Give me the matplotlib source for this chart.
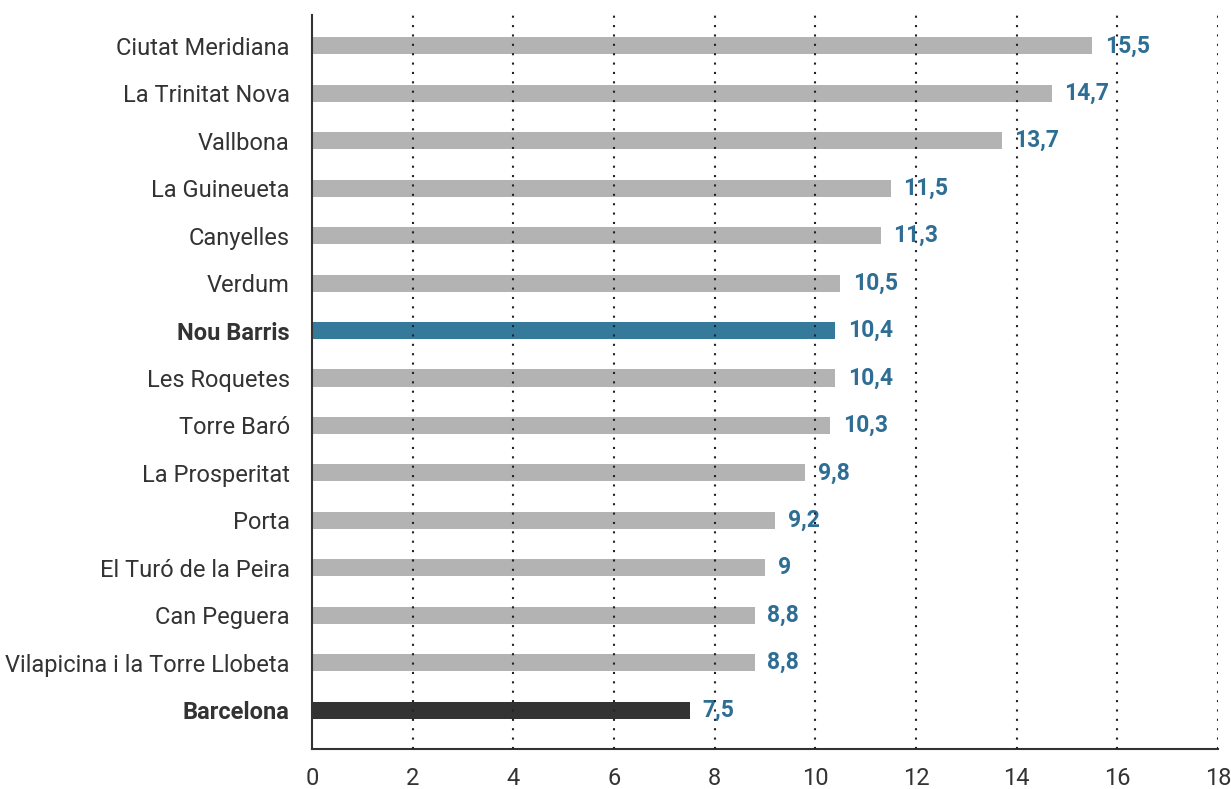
import matplotlib
matplotlib.use("Agg")
import matplotlib.pyplot as plt

categories = ["Ciutat Meridiana", "La Trinitat Nova", "Vallbona", "La Guineueta",
              "Canyelles", "Verdum", "Nou Barris", "Les Roquetes", "Torre Baró",
              "La Prosperitat", "Porta", "El Turó de la Peira", "Can Peguera",
              "Vilapicina i la Torre Llobeta", "Barcelona"]
values = [15.5, 14.7, 13.7, 11.5, 11.3, 10.5, 10.4, 10.4, 10.3, 9.8, 9.2, 9.0, 8.8, 8.8, 7.5]
xticks = [0, 2, 4, 6, 8, 10, 12, 14, 16, 18]

plt.rcParams['font.family'] = ['Roboto', 'DejaVu Sans']

fig = plt.figure(figsize=(12.31, 7.89), dpi=100)
ax = fig.add_axes([0.2535, 0.0507, 0.7359, 0.9303])

colors = []
for c in categories:
    if c == "Nou Barris":
        colors.append("#367a9b")
    elif c == "Barcelona":
        colors.append("#333333")
    else:
        colors.append("#b3b3b3")

ypos = list(range(len(categories)))
ax.barh(ypos, values, height=0.36, color=colors, zorder=2)

def fmt(v):
    s = f"{v:.1f}".replace(".", ",")
    if s.endswith(",0"):
        s = s[:-2]
    return s

for y, v in zip(ypos, values):
    ax.annotate(fmt(v), xy=(v, y), xytext=(9, 0), textcoords="offset points",
                va="center", ha="left", fontsize=16.5, fontweight="bold",
                color="#2f6e94", zorder=3)

ax.set_ylim(len(categories) - 1 + 0.82, -0.65)
ax.set_xlim(0, 18)
ax.set_xticks(xticks)
ax.set_xticklabels([str(t) for t in xticks])
ax.set_yticks(ypos)
ax.set_yticklabels(categories)
for lbl in ax.get_yticklabels():
    if lbl.get_text() in ("Nou Barris", "Barcelona"):
        lbl.set_fontweight("bold")

ax.tick_params(axis="both", length=0, labelsize=17, colors="#333333")
ax.tick_params(axis="x", pad=13)
ax.tick_params(axis="y", pad=16)

for xv in xticks[1:]:
    ax.axvline(xv, color="#222222", linewidth=1.5, linestyle=(0, (1, 3.5)), zorder=4)

for s in ["top", "right"]:
    ax.spines[s].set_visible(False)
for s in ["left", "bottom"]:
    ax.spines[s].set_color("#333333")
    ax.spines[s].set_linewidth(1.5)

fig.savefig("out.png", dpi=100)
